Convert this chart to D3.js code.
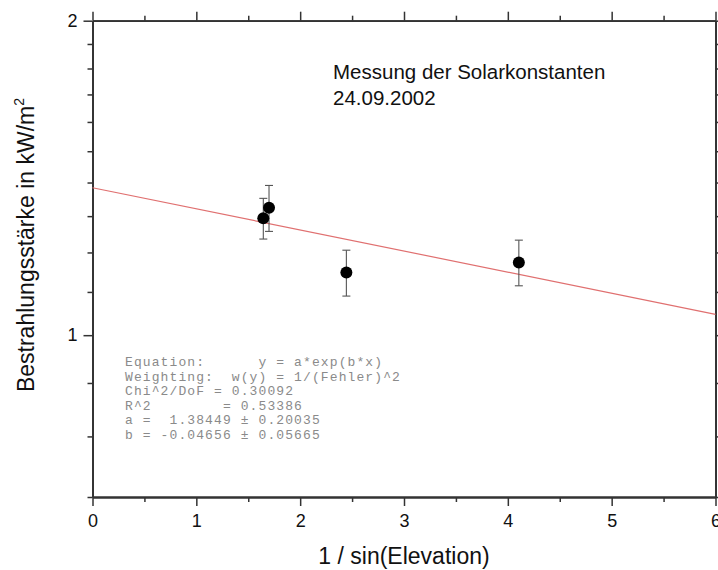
<!DOCTYPE html>
<html>
<head>
<meta charset="utf-8">
<script src="https://cdn.jsdelivr.net/npm/d3@7"></script>
<style>
  html, body { margin: 0; padding: 0; background: #fff; }
  svg { display: block; }
</style>
</head>
<body>
<svg id="chart" width="718" height="570"></svg>
<script>
// ---- data ----
const xValues = [1.645, 1.70, 2.445, 4.106];
const yValues = [1.294, 1.324, 1.148, 1.174];
const yErrors = [0.058, 0.067, 0.058, 0.059];

const fitX = [0, 6];
const fitY = [1.384, 1.047];

const xMajorTicks = [0, 1, 2, 3, 4, 5, 6];
const xMinorTicks = [0.5, 1.5, 2.5, 3.5, 4.5, 5.5];
const yMajorTicks = [1, 2];
const yMinorTicks = [0.7, 0.8, 0.9, 1.1, 1.2, 1.3, 1.4, 1.5, 1.6, 1.7, 1.8, 1.9];

const titleLines = ["Messung der Solarkonstanten", "24.09.2002"];
const statsLines = [
  "Equation:      y = a*exp(b*x)",
  "Weighting:  w(y) = 1/(Fehler)^2",
  "Chi^2/DoF = 0.30092",
  "R^2        = 0.53386",
  "a =  1.38449 \u00B1 0.20035",
  "b = -0.04656 \u00B1 0.05665"
];
const xLabel = "1 / sin(Elevation)";
const yLabel = "Bestrahlungsstärke in kW/m";

(function () {
// ---- layout ----
const svg = d3.select("#chart");
const pLeft = 92.5, pRight = 715.5, pTop = 20.7, pBottom = 497;
const x = d3.scaleLinear().domain([0, 6]).range([pLeft, pRight]);
const y = d3.scaleLog().domain([0.7, 2]).range([pBottom, pTop]);

const axisColor = "#333";
const major = 9, minor = 5;

function styleAxis(g) {
  g.selectAll("path").attr("stroke", axisColor).attr("stroke-width", 1.8);
  g.selectAll("line").attr("stroke", axisColor).attr("stroke-width", 1.5);
  g.selectAll("text").attr("fill", "#111")
    .style("font-family", "Liberation Sans, Arial, sans-serif").style("font-size", "18px");
}

// bottom axis
svg.append("g").attr("transform", `translate(0,${pBottom})`)
  .call(d3.axisBottom(x).tickValues(xMajorTicks).tickFormat(d3.format("d")).tickSizeInner(major).tickSizeOuter(0).tickPadding(8))
  .call(styleAxis);
svg.append("g").attr("transform", `translate(0,${pBottom})`)
  .call(d3.axisBottom(x).tickValues(xMinorTicks).tickFormat("").tickSizeInner(minor).tickSizeOuter(0))
  .call(styleAxis);
// top axis
svg.append("g").attr("transform", `translate(0,${pTop})`)
  .call(d3.axisTop(x).tickValues(xMajorTicks).tickFormat("").tickSizeInner(major).tickSizeOuter(0))
  .call(styleAxis);
svg.append("g").attr("transform", `translate(0,${pTop})`)
  .call(d3.axisTop(x).tickValues(xMinorTicks).tickFormat("").tickSizeInner(minor).tickSizeOuter(0))
  .call(styleAxis);
// left axis
svg.append("g").attr("transform", `translate(${pLeft},0)`)
  .call(d3.axisLeft(y).tickValues(yMajorTicks).tickFormat(d3.format("d")).tickSizeInner(major).tickSizeOuter(0).tickPadding(6))
  .call(styleAxis);
svg.append("g").attr("transform", `translate(${pLeft},0)`)
  .call(d3.axisLeft(y).tickValues(yMinorTicks).tickFormat("").tickSizeInner(minor).tickSizeOuter(0))
  .call(styleAxis);
// right axis
svg.append("g").attr("transform", `translate(${pRight},0)`)
  .call(d3.axisRight(y).tickValues(yMajorTicks).tickFormat("").tickSizeInner(major).tickSizeOuter(0))
  .call(styleAxis);
svg.append("g").attr("transform", `translate(${pRight},0)`)
  .call(d3.axisRight(y).tickValues(yMinorTicks).tickFormat("").tickSizeInner(minor).tickSizeOuter(0))
  .call(styleAxis);

// fit line
const fitData = fitX.map((d, i) => [d, fitY[i]]);
svg.append("path")
  .datum(fitData)
  .attr("d", d3.line().x(d => x(d[0])).y(d => y(d[1])))
  .attr("fill", "none").attr("stroke", "#e07070").attr("stroke-width", 1.2);

// error bars
const pts = xValues.map((d, i) => ({ x: d, y: yValues[i], e: yErrors[i] }));
const eb = svg.append("g").attr("stroke", "#555").attr("stroke-width", 1.1);
pts.forEach(p => {
  eb.append("line").attr("x1", x(p.x)).attr("x2", x(p.x)).attr("y1", y(p.y - p.e)).attr("y2", y(p.y + p.e));
  eb.append("line").attr("x1", x(p.x) - 4).attr("x2", x(p.x) + 4).attr("y1", y(p.y - p.e)).attr("y2", y(p.y - p.e));
  eb.append("line").attr("x1", x(p.x) - 4).attr("x2", x(p.x) + 4).attr("y1", y(p.y + p.e)).attr("y2", y(p.y + p.e));
});
// points
svg.append("g").selectAll("circle").data(pts).join("circle")
  .attr("cx", d => x(d.x)).attr("cy", d => y(d.y)).attr("r", 6).attr("fill", "#000");

// title
const title = svg.append("text")
  .style("font-family", "Liberation Sans, Arial, sans-serif").style("font-size", "20.5px").attr("fill", "#111");
titleLines.forEach((t, i) => title.append("tspan").attr("x", 333).attr("y", 79 + i * 26).text(t));

// stats box
const stats = svg.append("text")
  .style("font-family", "Liberation Mono, Courier New, monospace").style("font-size", "13px")
  .style("letter-spacing", "1.1px")
  .attr("fill", "#8a8a8a").attr("xml:space", "preserve").style("white-space", "pre");
statsLines.forEach((t, i) => stats.append("tspan").attr("x", 125).attr("y", 366 + i * 14.6).text(t));

// axis labels
svg.append("text").attr("x", 404).attr("y", 564).attr("text-anchor", "middle")
  .style("font-family", "Liberation Sans, Arial, sans-serif").style("font-size", "23px").attr("fill", "#111")
  .text(xLabel);
const yl = svg.append("text").attr("transform", "translate(34,245) rotate(-90)").attr("text-anchor", "middle")
  .style("font-family", "Liberation Sans, Arial, sans-serif").style("font-size", "23px").attr("fill", "#111");
yl.append("tspan").text(yLabel);
yl.append("tspan").attr("dy", -10).style("font-size", "14px").text("2");
})();
</script>
</body>
</html>
